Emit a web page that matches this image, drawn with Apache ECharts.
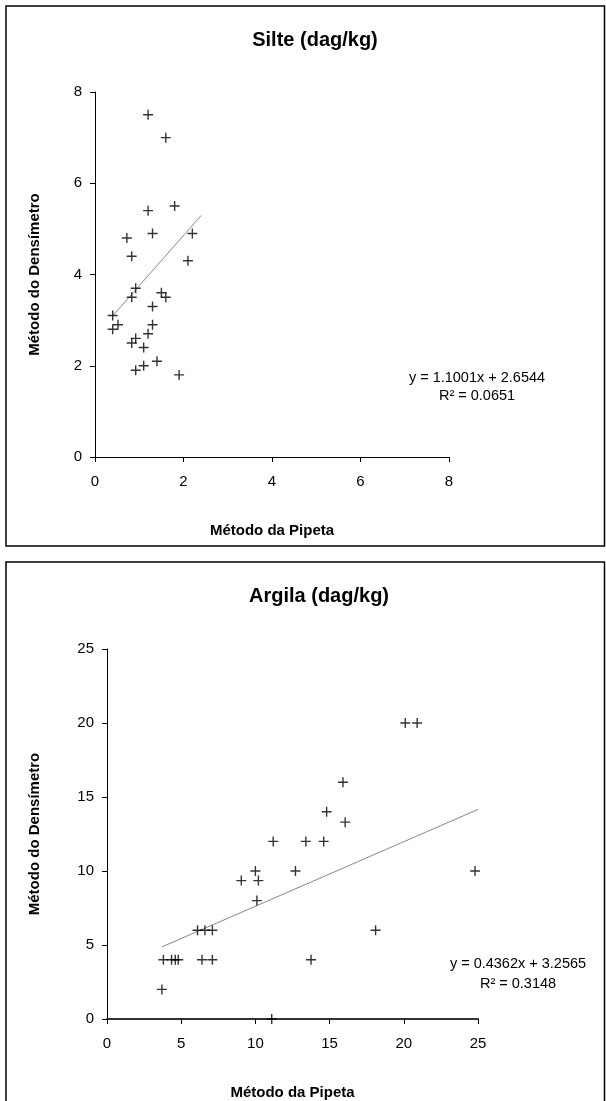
<!DOCTYPE html>
<html>
<head>
<meta charset="utf-8">
<script src="https://cdn.jsdelivr.net/npm/echarts@6/dist/echarts.min.js"></script>
<style>
html,body{margin:0;padding:0;background:#fff;}
#chart{width:606px;height:1101px;}
</style>
</head>
<body>
<div id="chart"></div>
<script>
// ---- Data: Silte (dag/kg) ----
var siltePipeta = [1.2, 1.6, 1.8, 1.2, 1.3, 2.2, 0.72, 0.83, 2.1, 0.92, 0.83, 1.5, 1.6, 1.3, 0.4, 0.52, 0.4, 1.3, 1.2, 0.92, 0.83, 1.1, 1.4, 1.1, 0.92, 1.9];
var silteDensimetro = [7.5, 7.0, 5.5, 5.4, 4.9, 4.9, 4.8, 4.4, 4.3, 3.7, 3.5, 3.6, 3.5, 3.3, 3.1, 2.9, 2.8, 2.9, 2.7, 2.6, 2.5, 2.4, 2.1, 2.0, 1.9, 1.8];
var silteTrend = { slope: 1.1001, intercept: 2.6544, xRange: [0.4, 2.4] };
var silteTicks = [0, 2, 4, 6, 8];

// ---- Data: Argila (dag/kg) ----
var argilaPipeta = [20.1, 20.9, 15.9, 14.8, 16.05, 11.2, 13.4, 14.6, 10.0, 12.7, 24.8, 9.05, 10.2, 10.1, 6.1, 6.6, 7.1, 18.1, 3.8, 4.35, 4.6, 4.8, 6.4, 7.1, 13.75, 3.7, 11.1];
var argilaDensimetro = [20, 20, 16, 14, 13.3, 12, 12, 12, 10, 10, 10, 9.35, 9.35, 8, 6, 6, 6, 6, 4, 4, 4, 4, 4, 4, 4, 2, 0];
var argilaTrend = { slope: 0.4362, intercept: 3.2565, xRange: [3.7, 25] };
var argilaTicks = [0, 5, 10, 15, 20, 25];

var silteEq = ['y = 1.1001x + 2.6544', 'R\u00b2 = 0.0651'];
var argilaEq = ['y = 0.4362x + 3.2565', 'R\u00b2 = 0.3148'];

var FONT = 'Liberation Sans, Arial, Helvetica, sans-serif';
var CROSS = 'path://M4.3,0H5.7V4.3H10V5.7H5.7V10H4.3V5.7H0V4.3H4.3Z';

function pairs(xs, ys){ return xs.map(function(x,i){ return [x, ys[i]]; }); }
function trendData(t){ return t.xRange.map(function(x){ return [x, t.slope * x + t.intercept]; }); }

function valAxis(gridIndex, ticks, name, nameGap, isX, lineColor, lineWidth){
  var step = ticks[1] - ticks[0];
  return {
    type: 'value', gridIndex: gridIndex,
    min: ticks[0], max: ticks[ticks.length-1], interval: step,
    name: name, nameLocation: 'middle', nameGap: nameGap,
    nameTextStyle: { fontFamily: FONT, fontSize: 15, fontWeight: 'bold', color: '#000' },
    axisLine: { show: true, onZero: false, lineStyle: { color: lineColor || '#000', width: lineWidth || 1 } },
    axisTick: { show: true, inside: false, length: 5, lineStyle: { color: '#000', width: 1 } },
    axisLabel: { fontFamily: FONT, fontSize: 15, color: '#000', margin: isX ? 17 : 13 },
    splitLine: { show: false }
  };
}

var chart = echarts.init(document.getElementById('chart'), null, { renderer: 'canvas' });
chart.setOption({
  backgroundColor: '#fff',
  animation: false,
  title: [
    { text: 'Silte (dag/kg)', left: 310, top: 25, textAlign: 'center',
      textStyle: { fontFamily: FONT, fontSize: 20, fontWeight: 'bold', color: '#000' } },
    { text: 'Argila (dag/kg)', left: 314, top: 581, textAlign: 'center',
      textStyle: { fontFamily: FONT, fontSize: 20, fontWeight: 'bold', color: '#000' } }
  ],
  grid: [
    { left: 95, top: 92, width: 354, height: 365 },
    { left: 107, top: 649, width: 371, height: 370 }
  ],
  xAxis: [
    valAxis(0, silteTicks, 'Método da Pipeta', 66, true),
    valAxis(1, argilaTicks, 'Método da Pipeta', 66, true, '#333', 1.8)
  ],
  yAxis: [
    valAxis(0, silteTicks, 'Método do Densímetro', 53, false),
    valAxis(1, argilaTicks, 'Método do Densímetro', 65, false)
  ],
  series: [
    { type: 'line', xAxisIndex: 0, yAxisIndex: 0, data: trendData(silteTrend), symbol: 'none',
      lineStyle: { color: '#888', width: 1 }, silent: true, z: 1 },
    { type: 'scatter', xAxisIndex: 0, yAxisIndex: 0, data: pairs(siltePipeta, silteDensimetro),
      symbol: CROSS, symbolSize: 10, itemStyle: { color: '#000' }, z: 2 },
    { type: 'line', xAxisIndex: 1, yAxisIndex: 1, data: trendData(argilaTrend), symbol: 'none',
      lineStyle: { color: '#888', width: 1 }, silent: true, z: 1 },
    { type: 'scatter', xAxisIndex: 1, yAxisIndex: 1, data: pairs(argilaPipeta, argilaDensimetro),
      symbol: CROSS, symbolSize: 10, itemStyle: { color: '#000' }, z: 2 }
  ],
  graphic: [
    { type: 'rect', shape: { x: 6, y: 6, width: 598.5, height: 540 }, style: { fill: 'none', stroke: '#000', lineWidth: 1.5 }, z: 0 },
    { type: 'rect', shape: { x: 6, y: 562, width: 598.5, height: 560 }, style: { fill: 'none', stroke: '#000', lineWidth: 1.5 }, z: 0 },
    { type: 'text', x: 477, y: 378, style: { text: silteEq[0], fontFamily: FONT, fontSize: 14.5, fill: '#000', textAlign: 'center', textVerticalAlign: 'middle' } },
    { type: 'text', x: 477, y: 396, style: { text: silteEq[1], fontFamily: FONT, fontSize: 14.5, fill: '#000', textAlign: 'center', textVerticalAlign: 'middle' } },
    { type: 'text', x: 518, y: 964, style: { text: argilaEq[0], fontFamily: FONT, fontSize: 14.5, fill: '#000', textAlign: 'center', textVerticalAlign: 'middle' } },
    { type: 'text', x: 518, y: 984, style: { text: argilaEq[1], fontFamily: FONT, fontSize: 14.5, fill: '#000', textAlign: 'center', textVerticalAlign: 'middle' } }
  ]
});
</script>
</body>
</html>
